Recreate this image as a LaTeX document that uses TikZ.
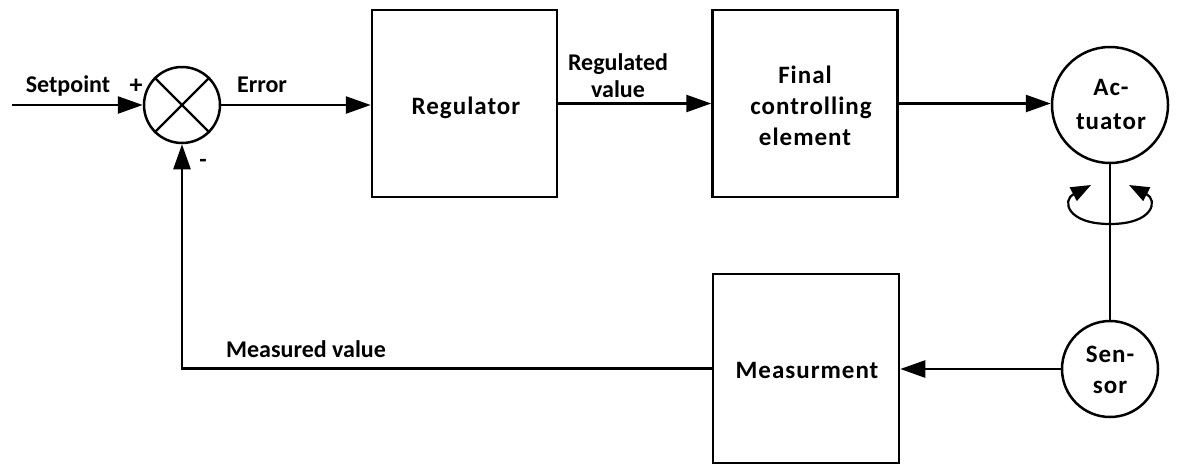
\documentclass[tikz,border=0pt]{standalone}
\usepackage{fontspec}
\setmainfont{Carlito}
\newfontfamily\boxfont[LetterSpace=4]{Carlito}
\usetikzlibrary{arrows.meta,calc}
\begin{document}
\begin{tikzpicture}[x=1pt,y=-1pt,
  line width=2.5pt,
  every node/.style={font=\bfseries\fontsize{24}{31}\selectfont, inner sep=0pt},
  blockbox/.style={draw, rectangle, minimum width=185pt, minimum height=187pt},
  roundbox/.style={draw, circle},
  lbl/.style={anchor=base, align=center},
  intext/.style={anchor=base, font=\boxfont\bfseries\fontsize{25}{31}\selectfont},
  arr/.style={-{Triangle[length=25pt,width=17pt]}},
  rotarr/.style={{Triangle[length=20pt,width=15pt]}-{Triangle[length=20pt,width=15pt]}, line width=2.2pt}
]
\useasboundingbox (0,0) rectangle (1199,474);

% nodes
\node[draw, circle, minimum size=76pt] (sum) at (182,105) {};
\draw[line width=2.2pt] (sum.north west) -- (sum.south east);
\draw[line width=2.2pt] (sum.north east) -- (sum.south west);

\node[blockbox] (reg) at (464.5,103.5) {};
\node[blockbox] (fce) at (805,103.5) {};
\node[roundbox, minimum size=116pt] (act) at (1110,105) {};
\node[blockbox, minimum width=186pt, minimum height=189pt] (meas) at (806,368.5) {};
\node[roundbox, minimum size=96pt] (sen) at (1110,369) {};

% texts inside the blocks
\node[intext] (treg) at (466,114) {Regulator};
\node[intext] (tfce1) at (805,83) {Final};
\node[intext] (tfce2) at (811,114) {controlling};
\node[intext] (tfce3) at (805,145) {element};
\node[intext] (tact1) at (1111,95) {Ac-};
\node[intext] (tact2) at (1111,129) {tuator};
\node[intext] (tmeas) at (807,378) {Measurment};
\node[intext] (tsen1) at (1110,362) {Sen-};
\node[intext] (tsen2) at (1110,393) {sor};

\coordinate (sp) at (12,105);

% connectors
\draw[arr] (sp) -- (sum.west);
\draw[arr] (sum.east) -- (sum.east -| reg.west);
\draw[arr] (reg.east) -- (fce.west);
\draw[arr] (fce.east) -- (fce.east -| act.west);
\draw (act.south) -- (sen.north);
\draw[arr] (sen.west) -- (sen.west -| meas.east);
\draw[arr] (meas.west) -| (sum.south);

% rotation arrow on the shaft
\draw[rotarr] (1091,185) .. controls (1062,200) and (1066,224) .. (1110,224)
  .. controls (1154,224) and (1158,200) .. (1129,185);

% labels
\node[lbl] (lsp) at (68,92) {Setpoint};
\node[lbl, font=\bfseries\fontsize{26}{31}\selectfont] (lplus) at (136,93) {+};
\node[lbl] (lerr) at (262,92) {Error};
\node[anchor=center] (lminus) at (203,163) {-};
\node[lbl] (lreg1) at (618,70) {Regulated};
\node[lbl] (lreg2) at (618,97) {value};
\node[lbl] (lmeas) at (306,357) {Measured value};
\end{tikzpicture}
\end{document}
